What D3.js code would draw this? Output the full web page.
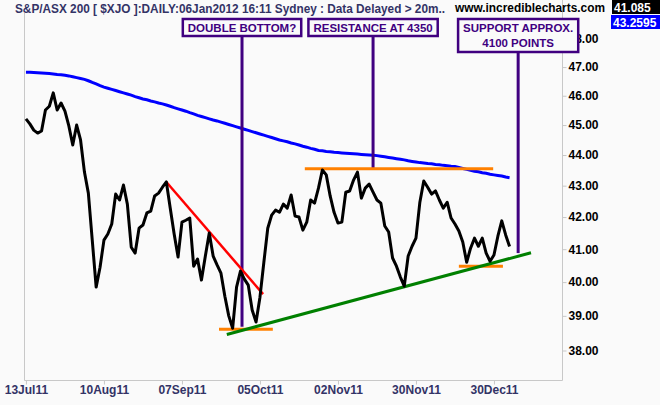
<!DOCTYPE html>
<html>
<head>
<meta charset="utf-8">
<script src="https://cdn.jsdelivr.net/npm/d3@7"></script>
<style>
body { margin: 0; background: #fafafa; }
svg { display: block; font-family: "Liberation Sans", Arial, sans-serif; }
</style>
</head>
<body>
<svg id="chart" width="660" height="405"></svg>
<script>
// trading days since 13 Jul 2011 (index 0) to 06 Jan 2012 (index 124)
var xTickIndex = [0, 20, 40, 60, 80, 100, 120];
var xTickLabels = ["13Jul11", "10Aug11", "07Sep11", "05Oct11", "02Nov11", "30Nov11", "30Dec11"];
var yTicks = [38, 39, 40, 41, 42, 43, 44, 45, 46, 47, 48];

// daily close (index points / 100)
var closes = [
  45.21, 45.04, 44.83, 44.73, 44.80, 45.51, 45.64, 46.10, 45.51, 45.75,
  45.47, 44.97, 44.33, 45.00, 44.50, 43.44, 42.76, 41.28, 39.85, 40.45,
  41.28, 41.47, 41.78, 42.73, 42.54, 43.02, 42.41, 41.06, 40.88, 41.65,
  41.75, 42.13, 42.19, 42.67, 42.76, 42.95, 43.12, 42.28, 41.47, 40.76,
  41.84, 41.90, 41.97, 40.48, 40.70, 40.06, 40.79, 41.50, 40.79, 40.52,
  40.27, 39.58, 39.00, 38.64, 39.85, 40.33, 40.09, 39.91, 39.17, 38.82,
  39.55, 40.60, 41.65, 42.06, 42.22, 42.15, 42.41, 42.28, 42.70, 42.03,
  42.00, 41.59, 41.84, 42.54, 42.44, 42.92, 43.51, 43.35, 42.67, 42.15,
  41.81, 41.84, 42.79, 42.83, 43.18, 43.44, 42.60, 42.92, 43.05, 42.79,
  42.54, 42.44, 41.72, 41.53, 40.73, 40.48, 40.15, 39.88, 40.79, 41.09,
  41.34, 42.47, 43.15, 42.95, 42.73, 42.83, 42.54, 42.28, 42.47, 41.97,
  41.78, 41.56, 41.22, 40.60, 41.03, 41.34, 41.09, 41.34, 40.88, 40.63,
  40.82, 41.40, 41.88, 41.44, 41.085
];

// moving average (blue)
var movingAvg = [
  46.82, 46.82, 46.81, 46.80, 46.79, 46.78, 46.77, 46.76, 46.74, 46.73,
  46.71, 46.69, 46.66, 46.63, 46.60, 46.57, 46.52, 46.46, 46.41, 46.35,
  46.30, 46.26, 46.22, 46.18, 46.14, 46.10, 46.06, 46.02, 45.97, 45.93,
  45.89, 45.86, 45.82, 45.79, 45.75, 45.72, 45.68, 45.64, 45.59, 45.55,
  45.51, 45.47, 45.42, 45.38, 45.33, 45.29, 45.25, 45.21, 45.17, 45.14,
  45.10, 45.06, 45.02, 44.98, 44.94, 44.90, 44.86, 44.82, 44.78, 44.74,
  44.70, 44.66, 44.62, 44.58, 44.54, 44.50, 44.47, 44.44, 44.40, 44.37,
  44.33, 44.29, 44.26, 44.22, 44.19, 44.15, 44.14, 44.12, 44.11, 44.09,
  44.08, 44.07, 44.06, 44.05, 44.04, 44.03, 44.02, 44.01, 44.00, 43.99,
  43.98, 43.96, 43.94, 43.92, 43.90, 43.88, 43.86, 43.84, 43.81, 43.79,
  43.77, 43.75, 43.74, 43.72, 43.71, 43.69, 43.68, 43.66, 43.65, 43.63,
  43.62, 43.59, 43.56, 43.53, 43.50, 43.47, 43.45, 43.42, 43.40, 43.37,
  43.35, 43.33, 43.31, 43.28, 43.2595
];

// drawn trend lines: [startIndex, startValue, endIndex, endValue]
var redTrend = [36, 43.12, 60.8, 39.64];
var greenTrend = [51.5, 38.46, 129.5, 40.89];
// horizontal levels: [startIndex, endIndex, value]
var orangeLevels = [
  [49.5, 63.3, 38.61],
  [71.5, 119.8, 43.55],
  [111, 122.3, 40.48]
];

// annotations
var annoLines = [["DOUBLE BOTTOM?"], ["RESISTANCE AT 4350"], ["SUPPORT APPROX.", "4100 POINTS"]];
var annoIndex = [55.4, 89, 126.2];
var annoEnd = [38.68, 43.55, 40.88];

var lastClose = "41.085", lastAvg = "43.2595";

var svg = d3.select("#chart");
var left = 24, right = 563, bottom = 380;

var x = d3.scaleLinear().domain([-0.5, 137.7]).range([left, right]);
var y = d3.scaleLog().domain([38, 48]).range([350.5, 39]);

var purple = "#400080", axisBlue = "#333366";

// frame
svg.append("path")
  .attr("d", "M" + (left + 0.5) + ",13V" + (bottom + 0.5) + "H" + (right - 0.5) + "V0")
  .attr("fill", "none").attr("stroke", "#c8c8c8");

// x axis
var gx = svg.append("g").attr("transform", "translate(0," + (bottom + 0.5) + ")")
  .call(d3.axisBottom(x).tickValues(xTickIndex).tickSize(4)
    .tickFormat(function(d, i) { return xTickLabels[i]; }));
gx.select(".domain").remove();
gx.selectAll("line").attr("stroke", "#c8c8c8");
gx.selectAll("text").attr("fill", axisBlue).attr("font-size", 12)
  .attr("font-weight", "bold").attr("font-family", "Liberation Sans, Arial").attr("dy", "0.45em").attr("y", 8);

// y axis (right, log scale)
var gy = svg.append("g").attr("transform", "translate(" + (right - 0.5) + ",0)")
  .call(d3.axisRight(y).tickValues(yTicks).tickSize(4).tickPadding(2).tickFormat(d3.format(".2f")));
gy.select(".domain").remove();
gy.selectAll("line").attr("stroke", "#c8c8c8");
gy.selectAll("text").attr("fill", "#000").attr("font-size", 12)
  .attr("font-weight", "bold").attr("font-family", "Liberation Sans, Arial");

// header
svg.append("text").attr("x", 15).attr("y", 13)
  .attr("fill", axisBlue).attr("font-size", 12).attr("font-weight", "bold")
  .attr("textLength", 430).attr("lengthAdjust", "spacingAndGlyphs")
  .text("S&P/ASX 200 [ $XJO ]:DAILY:06Jan2012 16:11 Sydney : Data Delayed > 20m..");
svg.append("text").attr("x", 455).attr("y", 12)
  .attr("fill", "#000").attr("font-size", 12).attr("font-weight", "bold")
  .attr("textLength", 150).attr("lengthAdjust", "spacingAndGlyphs")
  .text("www.incrediblecharts.com");

svg.append("rect").attr("x", 612).attr("y", 0).attr("width", 48).attr("height", 14).attr("fill", "#000");
svg.append("text").attr("x", 614).attr("y", 12).attr("fill", "#fff")
  .attr("font-size", 12).attr("font-weight", "bold").text(lastClose);
svg.append("rect").attr("x", 611).attr("y", 15).attr("width", 49).attr("height", 14).attr("fill", "#0000ff");
svg.append("text").attr("x", 613).attr("y", 27).attr("fill", "#fff")
  .attr("font-size", 12).attr("font-weight", "bold").text(lastAvg);

var line = d3.line()
  .x(function(d, i) { return x(i); })
  .y(function(d) { return y(d); });

// moving average
svg.append("path").datum(movingAvg)
  .attr("d", line).attr("fill", "none").attr("stroke", "#0000ff").attr("stroke-width", 3);

// annotation pointer lines
var annoTop = [36, 36, 52];
svg.selectAll(".pointer").data(annoIndex).enter().append("line")
  .attr("class", "pointer")
  .attr("x1", function(d) { return x(d); })
  .attr("x2", function(d) { return x(d); })
  .attr("y1", function(d, i) { return annoTop[i]; })
  .attr("y2", function(d, i) { return y(annoEnd[i]); })
  .attr("stroke", purple).attr("stroke-width", 3);

// orange levels
svg.selectAll(".level").data(orangeLevels).enter().append("line")
  .attr("class", "level")
  .attr("x1", function(d) { return x(d[0]); })
  .attr("x2", function(d) { return x(d[1]); })
  .attr("y1", function(d) { return y(d[2]); })
  .attr("y2", function(d) { return y(d[2]); })
  .attr("stroke", "#ff8000").attr("stroke-width", 3);

// trend lines
svg.append("line")
  .attr("x1", x(redTrend[0])).attr("y1", y(redTrend[1]))
  .attr("x2", x(redTrend[2])).attr("y2", y(redTrend[3]))
  .attr("stroke", "#ff0000").attr("stroke-width", 2.5);
svg.append("line")
  .attr("x1", x(greenTrend[0])).attr("y1", y(greenTrend[1]))
  .attr("x2", x(greenTrend[2])).attr("y2", y(greenTrend[3]))
  .attr("stroke", "#008000").attr("stroke-width", 3);

// price
svg.append("path").datum(closes)
  .attr("d", line).attr("fill", "none").attr("stroke", "#000")
  .attr("stroke-width", 3).attr("stroke-linejoin", "round");

// annotation boxes
var boxes = svg.selectAll(".anno").data(annoLines).enter().append("g").attr("class", "anno");
boxes.each(function(lines, i) {
  var g = d3.select(this);
  var cx = x(annoIndex[i]);
  var rect = g.append("rect");
  var t = g.append("text").attr("text-anchor", "middle")
    .attr("fill", purple).attr("font-size", 11.5).attr("font-weight", "bold");
  lines.forEach(function(s, j) {
    t.append("tspan").attr("x", cx).attr("y", 31.5 + j * 15).text(s);
  });
  var bb = t.node().getBBox();
  rect.attr("x", bb.x - 5).attr("y", 19).attr("width", bb.width + 10)
    .attr("height", 17 + (lines.length - 1) * 16)
    .attr("fill", "#fafafa").attr("stroke", purple).attr("stroke-width", 2.5);
});
</script>
</body>
</html>
